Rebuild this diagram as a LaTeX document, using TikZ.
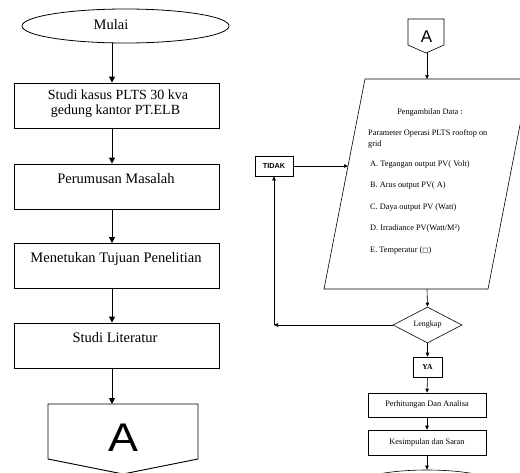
\documentclass[tikz,border=0pt]{standalone}
\usepackage{fontspec}
\setmainfont{Liberation Serif}
\setsansfont{Liberation Sans}
\newfontfamily\symfont{DejaVu Sans}
\usetikzlibrary{arrows.meta,shapes.geometric}

\begin{document}
\begin{tikzpicture}[x=1pt,y=-1pt,
  bigarr/.style={-{Triangle[length=6pt,width=6pt]}, line width=0.9pt},
  smallarr/.style={-{Triangle[length=4pt,width=3.5pt]}, line width=0.6pt},
  leftbox/.style={draw, line width=0.9pt, minimum width=205pt, minimum height=45pt, inner sep=0pt},
  rightbox/.style={draw, line width=0.6pt, minimum width=118pt, inner sep=0pt, font=\fontsize{8.3}{10}\selectfont},
  bigtext/.style={anchor=base, inner sep=0pt, font=\fontsize{14.5}{16}\selectfont},
  smalltext/.style={anchor=base west, inner sep=0pt, font=\fontsize{8.3}{10}\selectfont}]
\clip (0,0) rectangle (520,472);
\fill[white] (0,0) rectangle (520,472);
\node[draw, ellipse, line width=0.8pt, minimum width=207pt, minimum height=34pt, inner sep=0pt] (mulai) at (125.5,26) {};
\node[bigtext] at (111,29.5) {Mulai};
\node[leftbox] (studi) at (116.5,105.5) {};
\node[bigtext, font=\fontsize{14}{16}\selectfont] at (118,99) {Studi kasus PLTS 30 kva};
\node[bigtext, font=\fontsize{14}{16}\selectfont] at (115.5,114) {gedung kantor PT.ELB};
\node[leftbox] (rumus) at (116.5,186.5) {};
\node[bigtext] at (116,183) {Perumusan Masalah};
\node[leftbox] (tujuan) at (116.5,266) {};
\node[bigtext] at (116,262) {Menetukan Tujuan Penelitian};
\node[leftbox] (literatur) at (116.5,345.5) {};
\node[bigtext] at (115,342) {Studi Literatur};
\draw[line width=0.9pt] (48,404) -- (198,404) -- (198,459) -- (123,474) -- (48,459) -- cycle;
\coordinate (pageA) at (112,404);
\node[inner sep=0pt, font=\sffamily\fontsize{40}{40}\selectfont] (hurufA) at (123.5,437.5) {\scalebox{1.12}[1]{A}};
\draw[bigarr] ([xshift=-4.5pt]studi.north |- mulai.south) -- ([xshift=-4.5pt]studi.north);
\draw[bigarr] ([xshift=-4.5pt]studi.south) -- ([xshift=-4.5pt]rumus.north);
\draw[bigarr] ([xshift=-4.5pt]rumus.south) -- ([xshift=-4.5pt]tujuan.north);
\draw[bigarr] ([xshift=-4.5pt]tujuan.south) -- ([xshift=-4.5pt]literatur.north);
\draw[bigarr] ([xshift=-4.5pt]literatur.south) -- (pageA);

\draw[line width=0.6pt] (408,19) -- (444,19) -- (444,45) -- (426,53) -- (408,45) -- cycle;
\node[inner sep=0pt, font=\sffamily\fontsize{17}{17}\selectfont] (hurufB) at (426.5,36.5) {A};
\coordinate (pageB) at (427,52);
\draw[line width=0.6pt] (365,79) -- (529,79) -- (488,289) -- (324,289) -- cycle;
\coordinate (data-top) at (427,79);
\coordinate (data-in) at (348,166);
\coordinate (data-bot) at (427,289);
\node[anchor=base, inner sep=0pt, font=\fontsize{8.3}{10}\selectfont] at (430,114) {Pengambilan Data :};
\node[smalltext] at (368,135) {Parameter Operasi PLTS rooftop on};
\node[smalltext] at (368,146) {grid};
\node[smalltext] at (370,166.5) {A. Tegangan output PV( Volt)};
\node[smalltext] at (370,187.5) {B. Arus output PV( A)};
\node[smalltext] at (370,209) {C. Daya output PV (Watt)};
\node[smalltext] at (370,230) {D. Irradiance PV(Watt/M²)};
\node[smalltext] at (370,252) {E. Temperatur ({\symfont\fontsize{6.5}{8}\selectfont □})};
\node[draw, line width=0.6pt, minimum width=38pt, minimum height=20pt, inner sep=0pt, font=\sffamily\bfseries\fontsize{7.3}{9}\selectfont] (tidak) at (274,166) {TIDAK};
\node[draw, diamond, aspect=1.9, line width=0.6pt, minimum width=69pt, minimum height=36pt, inner sep=0pt, font=\fontsize{8}{10}\selectfont] (lengkap) at (427.5,325) {Lengkap};
\node[draw, line width=0.6pt, minimum width=29pt, minimum height=20pt, inner sep=0pt, font=\bfseries\fontsize{7.6}{9}\selectfont] (ya) at (427.5,367) {YA};
\node[rightbox, minimum height=24pt] (hitung) at (427,405) {Perhitungan Dan Analisa};
\node[rightbox, minimum height=25pt] (simpul) at (427,442.5) {Kesimpulan dan Saran};
\node[draw, ellipse, line width=0.6pt, minimum width=150pt, minimum height=34pt, inner sep=0pt] (selesai) at (427,487) {};
\draw[smallarr] (pageB) -- (data-top);
\draw[smallarr] (data-bot) -- (lengkap.north);
\draw[smallarr] (lengkap.south) -- (ya.north);
\draw[smallarr] (ya.south) -- (hitung.north);
\draw[smallarr] (hitung.south) -- (simpul.north);
\draw[smallarr] (simpul.south) -- (selesai.north);
\coordinate (belok) at (tidak.south |- lengkap.west);
\draw[smallarr] (lengkap.west) -- (belok);
\draw[smallarr] (belok) -- (tidak.south);
\draw[smallarr] (tidak.east) -- (data-in);
\end{tikzpicture}
\end{document}
